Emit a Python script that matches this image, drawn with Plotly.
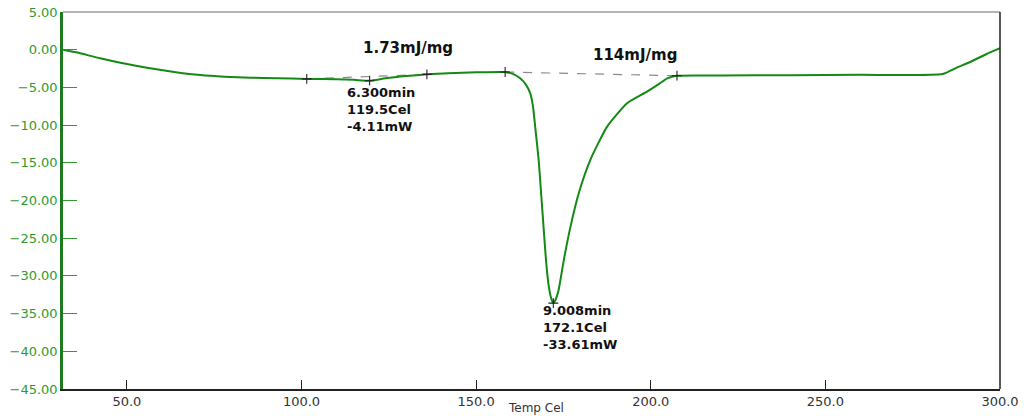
import plotly.graph_objects as go

# DSC curve: temperature (Cel) vs heat flow (mW)
temp = [31.7, 35.5, 42.3, 50.0, 56.6, 64.0, 71.0, 78.0, 85.3, 93.0, 101.5, 110.0, 115.0, 119.5,
        124.0, 130.0, 135.9, 142.0, 150.0, 158.3, 160.5, 162.6, 164.2, 165.5, 166.3, 166.9, 167.9,
        168.6, 169.3, 170.0, 170.8, 171.5, 172.1, 172.8, 173.6, 175.1, 177.0, 179.4, 182.7,
        187.5, 193.2, 198.9, 202.5, 204.7, 207.5, 220.0, 240.0, 260.0, 283.6, 287.5, 291.6,
        296.0, 300.0]
heat = [0.0, -0.35, -1.14, -1.9, -2.47, -2.98, -3.36, -3.58, -3.71, -3.8, -3.87, -3.92, -4.0, -4.11,
        -3.8, -3.5, -3.27, -3.12, -3.0, -2.96, -3.2, -3.8, -4.6, -5.8, -7.6, -10.2, -14.6,
        -19.0, -23.5, -27.9, -31.4, -33.0, -33.61, -33.1, -31.9, -27.9, -23.5, -19.0, -14.6,
        -10.2, -7.1, -5.57, -4.5, -3.8, -3.45, -3.42, -3.38, -3.33, -3.22, -2.4, -1.6,
        -0.6, 0.2]

# integration baselines
base1_t = [101.5, 135.9]
base1_v = [-3.87, -3.27]
base2_t = [158.3, 207.5]
base2_v = [-2.96, -3.45]

# marker points
mark_t = [101.5, 119.5, 135.9, 158.3, 172.1, 207.5]
mark_v = [-3.87, -4.11, -3.27, -2.96, -33.61, -3.45]

# annotation texts
enthalpy_labels = ["1.73mJ/mg", "114mJ/mg"]
peak1_lines = ["6.300min", "119.5Cel", "-4.11mW"]
peak2_lines = ["9.008min", "172.1Cel", "-33.61mW"]

y_ticks = [5, 0, -5, -10, -15, -20, -25, -30, -35, -40, -45]
x_ticks = [50, 100, 150, 200, 250, 300]

GREEN = "#138a13"
TXT = "DejaVu Sans, Verdana, sans-serif"

fig = go.Figure()
fig.add_trace(go.Scatter(x=base1_t, y=base1_v, mode="lines",
                         line=dict(color="#8a8a8a", width=1.2, dash="dash"), hoverinfo="skip"))
fig.add_trace(go.Scatter(x=base2_t, y=base2_v, mode="lines",
                         line=dict(color="#8a8a8a", width=1.2, dash="dash"), hoverinfo="skip"))
fig.add_trace(go.Scatter(x=temp, y=heat, mode="lines",
                         line=dict(color=GREEN, width=2, shape="spline", smoothing=0.5)))
fig.add_trace(go.Scatter(x=mark_t, y=mark_v, mode="markers",
                         marker=dict(symbol="cross-thin", size=7,
                                     line=dict(color="#222222", width=1.1))))

big = dict(family=TXT, size=15, color="#111111", weight="bold")
small = dict(family=TXT, size=13, color="#111111", weight="bold")
fig.add_annotation(x=130.4, y=0.23, text="<b>%s</b>" % enthalpy_labels[0], showarrow=False,
                   font=big, xanchor="center", yanchor="middle")
fig.add_annotation(x=195.4, y=-0.74, text="<b>%s</b>" % enthalpy_labels[1], showarrow=False,
                   font=big, xanchor="center", yanchor="middle")
fig.add_annotation(x=112.5, y=-7.9, text="<b>" + "<br>".join(peak1_lines) + "</b>",
                   showarrow=False, font=small, xanchor="left", yanchor="middle", align="left")
fig.add_annotation(x=168.65, y=-36.9, text="<b>" + "<br>".join(peak2_lines) + "</b>",
                   showarrow=False, font=small, xanchor="left", yanchor="middle", align="left")
fig.add_annotation(xref="paper", yref="paper", x=0.505, y=-0.05, text="Temp Cel",
                   showarrow=False, xanchor="center", yanchor="middle",
                   font=dict(family=TXT, size=12, color="#333333"))

# frame: gray top, dark right
fig.add_shape(type="line", xref="paper", yref="paper", x0=0, x1=1, y0=1, y1=1,
              line=dict(color="#9a9a9a", width=1.5))
fig.add_shape(type="line", xref="paper", yref="paper", x0=1, x1=1, y0=0, y1=1,
              line=dict(color="#222222", width=1.5))

fig.update_layout(
    width=1024, height=416,
    margin=dict(l=63, r=24, t=12, b=27, autoexpand=False),
    paper_bgcolor="white", plot_bgcolor="white",
    showlegend=False,
    xaxis=dict(range=[31.7, 300], tickvals=x_ticks, tickformat=".1f", automargin=False,
               ticks="inside", ticklen=9, tickcolor="#222222", tickwidth=1.2,
               showline=True, linecolor="#222222", linewidth=1.5,
               showgrid=False, zeroline=False, ticklabeloverflow="allow",
               tickfont=dict(family=TXT, size=13, color="#333333")),
    yaxis=dict(range=[-45, 5], tickvals=y_ticks, tickformat=".2f", automargin=False,
               ticks="inside", ticklen=14, tickcolor="#2e9a2e", tickwidth=1.2,
               showline=True, linecolor="#1f7a1f", linewidth=2.5,
               showgrid=False, zeroline=False, ticklabeloverflow="allow",
               tickfont=dict(family=TXT, size=13, color="#2e9a2e")),
)

fig.write_html("out.html", config={"displayModeBar": False},
               post_script="document.body.style.margin='0';document.body.style.overflow='hidden';")
